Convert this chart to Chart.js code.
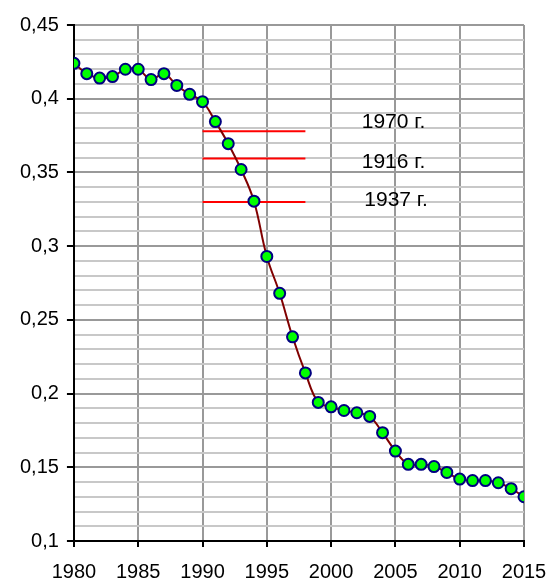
<!DOCTYPE html>
<html>
<head>
<meta charset="utf-8">
<script src="https://cdn.jsdelivr.net/npm/chart.js@4.4.1/dist/chart.umd.min.js"></script>
<style>
  html, body { margin: 0; padding: 0; background: #fff; }
  #wrap { width: 551px; height: 583px; }
</style>
</head>
<body>
<div id="wrap"><canvas id="chart"></canvas></div>
<script>
// Годы и значения показателя
const years = [1980, 1981, 1982, 1983, 1984, 1985, 1986, 1987, 1988, 1989,
               1990, 1991, 1992, 1993, 1994, 1995, 1996, 1997, 1998, 1999,
               2000, 2001, 2002, 2003, 2004, 2005, 2006, 2007, 2008, 2009,
               2010, 2011, 2012, 2013, 2014, 2015];
const values = [0.424, 0.417, 0.414, 0.415, 0.420, 0.420, 0.413, 0.417, 0.409, 0.403,
                0.398, 0.3845, 0.3695, 0.352, 0.3305, 0.293, 0.268, 0.2385, 0.214, 0.194,
                0.191, 0.1885, 0.187, 0.1845, 0.1735, 0.161, 0.152, 0.152, 0.1505, 0.1465,
                0.142, 0.141, 0.141, 0.1395, 0.1355, 0.130];

// Уровни прошлых лет (горизонтальные отрезки)
const refYears = ['1970 г.', '1916 г.', '1937 г.'];
const refLevels = [0.378, 0.3595, 0.330];
const refFrom = 1990;
const refTo = 1998;

const FONT = '"Liberation Sans", Arial, sans-serif';

const mainSeries = {
    data: years.map((y, i) => ({ x: y, y: values[i] })),
    borderColor: '#800000',
    borderWidth: 2,
    tension: 0.4,
    pointRadius: 5.5,
    pointBackgroundColor: '#00ff00',
    pointBorderColor: '#000080',
    pointBorderWidth: 2,
    order: 0
};

const refSeries = refLevels.map(v => ({
    data: [{ x: refFrom, y: v }, { x: refTo, y: v }],
    borderColor: '#ff0000',
    borderWidth: 2,
    pointRadius: 0,
    order: 1
}));

// Подписи к отрезкам
const refLabels = {
    id: 'refLabels',
    afterDatasetsDraw(chart) {
        const { ctx, scales } = chart;
        const spots = [[2004.85, 0.3838], [2004.85, 0.3568], [2005.05, 0.3312]];
        ctx.save();
        ctx.font = '21px ' + FONT;
        ctx.fillStyle = '#000';
        ctx.textAlign = 'center';
        ctx.textBaseline = 'middle';
        refYears.forEach((t, i) => {
            ctx.fillText(t, scales.x.getPixelForValue(spots[i][0]), scales.y.getPixelForValue(spots[i][1]));
        });
        ctx.restore();
    }
};

const isMajor = v => Math.round(v * 100) % 5 === 0;

new Chart(document.getElementById('chart'), {
    type: 'line',
    data: { datasets: [mainSeries, ...refSeries] },
    plugins: [refLabels],
    options: {
        responsive: true,
        maintainAspectRatio: false,
        animation: false,
        layout: { padding: { top: 25, right: 27, left: 12, bottom: 0 } },
        plugins: { legend: { display: false }, tooltip: { enabled: false } },
        scales: {
            x: {
                type: 'linear',
                min: 1980,
                max: 2015,
                afterFit: s => { s.height = 42; s.paddingLeft = 0; s.paddingRight = 0; },
                ticks: {
                    stepSize: 5,
                    color: '#000',
                    font: { family: FONT, size: 20 },
                    padding: 13,
                    maxRotation: 0,
                    callback: v => String(v)
                },
                grid: { color: '#999', lineWidth: 2, tickLength: 6, tickColor: '#000', tickWidth: 2 },
                border: { color: '#000', width: 2 }
            },
            y: {
                min: 0.1,
                max: 0.45,
                ticks: {
                    stepSize: 0.01,
                    autoSkip: false,
                    color: '#000',
                    font: { family: FONT, size: 20 },
                    padding: 8,
                    callback: v => isMajor(v) ? (Math.round(v * 100) / 100).toString().replace('.', ',') : ''
                },
                grid: {
                    color: c => isMajor(c.tick.value) ? '#999' : '#c8c8c8',
                    lineWidth: 2,
                    tickLength: 7,
                    tickWidth: 2,
                    tickColor: c => isMajor(c.tick.value) ? '#000' : 'rgba(0,0,0,0)'
                },
                border: { color: '#000', width: 2 }
            }
        }
    }
});
</script>
</body>
</html>
